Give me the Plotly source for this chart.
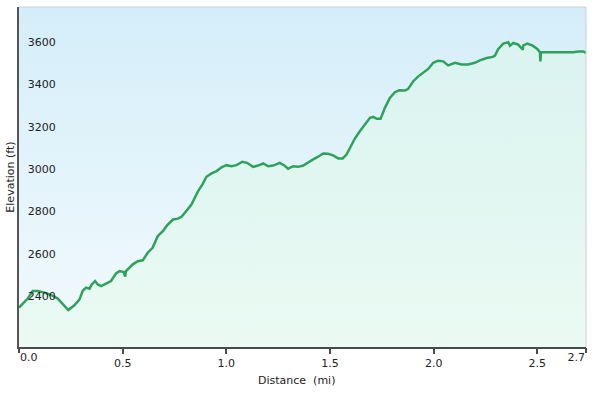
import plotly.graph_objects as go

distance_mi = [0.0, 0.042, 0.066, 0.090, 0.123, 0.154, 0.187, 0.219, 0.238, 0.267,
               0.292, 0.307, 0.323, 0.340, 0.351, 0.367, 0.380, 0.396, 0.428, 0.444,
               0.468, 0.485, 0.505, 0.512, 0.516, 0.549, 0.573, 0.597, 0.621, 0.645,
               0.669, 0.694, 0.714, 0.743, 0.767, 0.784, 0.800, 0.816, 0.832, 0.848,
               0.864, 0.885, 0.904, 0.929, 0.953, 0.977, 1.001, 1.025, 1.049, 1.078,
               1.100, 1.129, 1.153, 1.178, 1.202, 1.226, 1.258, 1.278, 1.298, 1.322,
               1.347, 1.371, 1.395, 1.419, 1.443, 1.467, 1.491, 1.515, 1.540, 1.561,
               1.580, 1.596, 1.620, 1.644, 1.668, 1.693, 1.709, 1.725, 1.744, 1.765,
               1.789, 1.813, 1.834, 1.862, 1.877, 1.902, 1.926, 1.950, 1.974, 1.998,
               2.022, 2.046, 2.070, 2.103, 2.135, 2.167, 2.199, 2.223, 2.256, 2.285,
               2.296, 2.312, 2.336, 2.360, 2.368, 2.384, 2.408, 2.430, 2.433, 2.452,
               2.478, 2.500, 2.513, 2.515, 2.518, 2.529, 2.674, 2.698, 2.722, 2.735]
elevation_ft = [2381, 2424, 2460, 2460, 2452, 2441, 2424, 2392, 2370, 2392,
                2420, 2460, 2476, 2471, 2491, 2507, 2491, 2483, 2499, 2507,
                2543, 2554, 2549, 2528, 2554, 2586, 2601, 2605, 2641, 2665,
                2719, 2743, 2770, 2798, 2802, 2811, 2830, 2850, 2869, 2901,
                2932, 2964, 3000, 3016, 3027, 3045, 3055, 3050, 3055, 3071,
                3066, 3047, 3053, 3063, 3050, 3053, 3066, 3055, 3038, 3050,
                3047, 3053, 3069, 3082, 3095, 3110, 3109, 3101, 3087, 3087,
                3105, 3137, 3181, 3215, 3247, 3279, 3283, 3274, 3274, 3326,
                3373, 3400, 3409, 3408, 3416, 3452, 3475, 3491, 3510, 3539,
                3549, 3546, 3527, 3539, 3531, 3531, 3539, 3551, 3562, 3567,
                3573, 3605, 3630, 3636, 3620, 3633, 3625, 3601, 3622, 3630,
                3620, 3605, 3589, 3546, 3589, 3589, 3589, 3593, 3593, 3586]

x_tickvals_mid = [0.5, 1.0, 1.5, 2.0, 2.5]
x_ticktext_mid = ["0.5", "1.0", "1.5", "2.0", "2.5"]
x_tickval_first, x_ticktext_first = 0.0, "0.0"
x_tickval_last, x_ticktext_last = 2.735, "2.7"
y_tickvals = [2400, 2600, 2800, 3000, 3200, 3400, 3600]
y_ticktext = ["2400", "2600", "2800", "3000", "3200", "3400", "3600"]

x_range = [0.0, 2.735]
y_range = [2195, 3803]

FONT = "DejaVu Sans"
TXT = "#222222"
AX = "#4a4a4a"

fig = go.Figure()

# background gradient of the plot area
fig.add_trace(go.Scatter(
    x=[x_range[0], x_range[1], x_range[1], x_range[0], x_range[0]],
    y=[y_range[0], y_range[0], y_range[1], y_range[1], y_range[0]],
    mode="lines", line=dict(width=0), fill="toself",
    fillgradient=dict(type="vertical", start=y_range[0], stop=y_range[1],
                      colorscale=[[0, "#f3fafd"], [1, "#d4eef9"]]),
    hoverinfo="skip", showlegend=False,
))

# elevation profile
fig.add_trace(go.Scatter(
    x=distance_mi, y=elevation_ft, mode="lines",
    line=dict(color="#2ea25a", width=2.5),
    fill="tozeroy", fillcolor="rgba(222,250,228,0.4)",
    showlegend=False,
))

# empty traces so the end-tick overlay axes get drawn
fig.add_trace(go.Scatter(x=[], y=[], xaxis="x2", showlegend=False, hoverinfo="skip"))
fig.add_trace(go.Scatter(x=[], y=[], xaxis="x3", showlegend=False, hoverinfo="skip"))

tick_common = dict(
    range=x_range, showgrid=False, zeroline=False,
    ticks="outside", ticklen=5, tickwidth=2, tickcolor=AX,
    ticklabeloverflow="allow",
    tickfont=dict(family=FONT, size=11, color=TXT),
)

fig.update_layout(
    width=592, height=393,
    margin=dict(l=19, r=6, t=7, b=46, autoexpand=False),
    paper_bgcolor="white", plot_bgcolor="#e6f5fa",
    font=dict(family=FONT, size=11, color=TXT),
    xaxis=dict(tickvals=x_tickvals_mid, ticktext=x_ticktext_mid,
               showline=True, linecolor=AX, linewidth=2, **tick_common),
    xaxis2=dict(tickvals=[x_tickval_first], ticktext=[x_ticktext_first],
                overlaying="x", anchor="y", side="bottom", showline=False,
                ticklabelposition="outside right", **tick_common),
    xaxis3=dict(tickvals=[x_tickval_last], ticktext=[x_ticktext_last],
                overlaying="x", anchor="y", side="bottom", showline=False,
                ticklabelposition="outside left", **tick_common),
    yaxis=dict(
        range=y_range, tickvals=y_tickvals, ticktext=y_ticktext,
        showgrid=True, gridcolor="#c3cbcf", gridwidth=1.5, zeroline=False,
        showline=True, linecolor="#555555", linewidth=2,
        ticks="", ticklabelposition="inside top", ticklabelstandoff=7,
        ticklabeloverflow="allow",
        tickfont=dict(family=FONT, size=11, color=TXT),
    ),
    shapes=[
        dict(type="line", xref="paper", yref="paper", x0=0, x1=1, y0=1, y1=1,
             line=dict(color="#c8d0d4", width=1)),
        dict(type="line", xref="paper", yref="paper", x0=1, x1=1, y0=0, y1=1,
             line=dict(color="#c8d0d4", width=1)),
    ],
    annotations=[
        dict(text="Distance\u00a0\u00a0(mi)", xref="paper", yref="paper",
             x=0.49, y=-0.099, yanchor="middle", xanchor="center",
             showarrow=False, font=dict(family=FONT, size=11, color=TXT)),
        dict(text="Elevation (ft)", xref="paper", yref="paper",
             x=-0.0165, y=0.5, xanchor="center", yanchor="middle", textangle=-90,
             showarrow=False, font=dict(family=FONT, size=11, color=TXT)),
    ],
)

fig.write_html("out.html", config={"displayModeBar": False},
               post_script="document.body.style.margin='0';")
